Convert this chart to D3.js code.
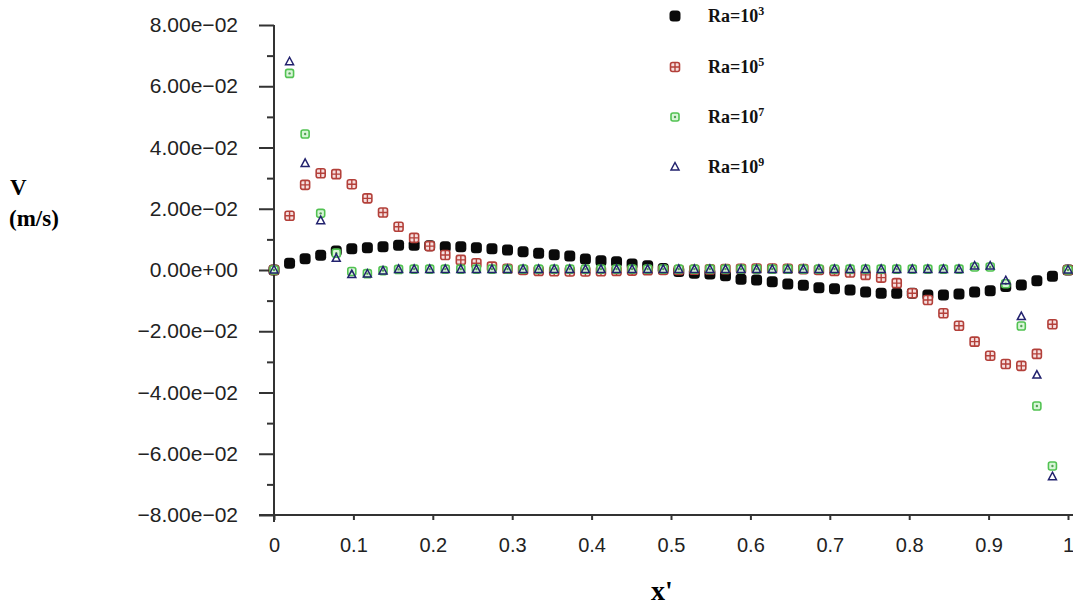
<!DOCTYPE html>
<html>
<head>
<meta charset="utf-8">
<title>V (m/s) vs x'</title>
<script src="https://cdnjs.cloudflare.com/ajax/libs/d3/7.8.5/d3.min.js"></script>
<style>
  body { margin: 0; background: #fff; }
  svg { display: block; }
</style>
</head>
<body>
<script>
// x' positions (52 nodes across the cavity)
var xPos = [0, 0.0196, 0.0392, 0.0588, 0.0784, 0.0980, 0.1176, 0.1373, 0.1569, 0.1765,
  0.1961, 0.2157, 0.2353, 0.2549, 0.2745, 0.2941, 0.3137, 0.3333, 0.3529, 0.3725,
  0.3922, 0.4118, 0.4314, 0.4510, 0.4706, 0.4902, 0.5098, 0.5294, 0.5490, 0.5686,
  0.5882, 0.6078, 0.6275, 0.6471, 0.6667, 0.6863, 0.7059, 0.7255, 0.7451, 0.7647,
  0.7843, 0.8039, 0.8235, 0.8431, 0.8627, 0.8824, 0.9020, 0.9216, 0.9412, 0.9608,
  0.9804, 1.0];

// velocity V (m/s)
var ra3 = [0, 0.0022, 0.0037, 0.0048, 0.0062, 0.0069, 0.0073, 0.0076, 0.0081, 0.0081,
  0.0079, 0.0076, 0.0076, 0.0073, 0.0069, 0.0065, 0.0060, 0.0055, 0.0050, 0.0046,
  0.0036, 0.0030, 0.0027, 0.0020, 0.0014, 0.0005, -0.0005, -0.0011, -0.0013, -0.0019,
  -0.0030, -0.0033, -0.0038, -0.0046, -0.0050, -0.0058, -0.0061, -0.0065, -0.0072, -0.0076,
  -0.0076, -0.0076, -0.0082, -0.0082, -0.0078, -0.0072, -0.0068, -0.0054, -0.0049, -0.0035,
  -0.0020, 0];
var ra5 = [0, 0.0177, 0.0278, 0.0316, 0.0313, 0.0280, 0.0234, 0.0188, 0.0141, 0.0105,
  0.0078, 0.0049, 0.0033, 0.0022, 0.0011, 0.0004, 0.0000, -0.0003, -0.0004, -0.0005,
  -0.0005, -0.0004, -0.0003, -0.0002, -0.0001, 0, 0, 0.0001, 0.0002, 0.0003,
  0.0004, 0.0005, 0.0005, 0.0004, 0.0003, 0.0000, -0.0003, -0.0008, -0.0016, -0.0025,
  -0.0043, -0.0076, -0.0098, -0.0141, -0.0182, -0.0234, -0.0280, -0.0307, -0.0313, -0.0274,
  -0.0177, 0];
var ra7 = [0, 0.0642, 0.0444, 0.0185, 0.0055, -0.0005, -0.0012, -0.0002, 0.0002, 0.0003,
  0.0003, 0.0003, 0.0003, 0.0003, 0.0003, 0.0003, 0.0003, 0.0003, 0.0003, 0.0003,
  0.0003, 0.0003, 0.0003, 0.0003, 0.0003, 0.0003, 0.0003, 0.0003, 0.0003, 0.0003,
  0.0003, 0.0003, 0.0003, 0.0003, 0.0003, 0.0003, 0.0003, 0.0003, 0.0003, 0.0003,
  0.0003, 0.0003, 0.0003, 0.0003, 0.0003, 0.0010, 0.0010, -0.0045, -0.0183, -0.0444,
  -0.0640, 0];
var ra9 = [0, 0.0680, 0.0348, 0.0161, 0.0038, -0.0015, -0.0013, -0.0003, 0.0002, 0.0002,
  0.0002, 0.0002, 0.0002, 0.0002, 0.0002, 0.0002, 0.0002, 0.0002, 0.0002, 0.0002,
  0.0002, 0.0002, 0.0002, 0.0002, 0.0002, 0.0002, 0.0002, 0.0002, 0.0002, 0.0002,
  0.0002, 0.0002, 0.0002, 0.0002, 0.0002, 0.0002, 0.0002, 0.0002, 0.0002, 0.0002,
  0.0002, 0.0002, 0.0002, 0.0002, 0.0002, 0.0013, 0.0013, -0.0035, -0.0152, -0.0343,
  -0.0675, 0];

var legendExp = ["3", "5", "7", "9"];

var xTicks = [0, 0.1, 0.2, 0.3, 0.4, 0.5, 0.6, 0.7, 0.8, 0.9, 1];
var xTickLabels = ["0", "0.1", "0.2", "0.3", "0.4", "0.5", "0.6", "0.7", "0.8", "0.9", "1"];
var yTicks = [-0.08, -0.06, -0.04, -0.02, 0, 0.02, 0.04, 0.06, 0.08];
var yTickLabels = ["\u22128.00e\u221202", "\u22126.00e\u221202", "\u22124.00e\u221202", "\u22122.00e\u221202",
  "0.00e+00", "2.00e\u221202", "4.00e\u221202", "6.00e\u221202", "8.00e\u221202"];
var yMinor = [-0.07, -0.05, -0.03, -0.01, 0.01, 0.03, 0.05, 0.07];

var width = 1073, height = 607;
var axisColor = "#333";

var x = d3.scaleLinear().domain([0, 1]).range([274, 1068]);
var y = d3.scaleLinear().domain([-0.08, 0.08]).range([515, 25]);

var svg = d3.select("body").append("svg")
  .attr("width", width)
  .attr("height", height);

// axes
var gy = svg.append("g").attr("transform", "translate(274,0)")
  .call(d3.axisLeft(y).tickValues(yTicks)
    .tickFormat(function(d, i) { return yTickLabels[i]; })
    .tickSize(15).tickPadding(21).tickSizeOuter(0));
var gyMinor = svg.append("g").attr("transform", "translate(274,0)")
  .call(d3.axisLeft(y).tickValues(yMinor).tickFormat("").tickSize(7).tickSizeOuter(0));
var gx = svg.append("g").attr("transform", "translate(0,515)")
  .call(d3.axisBottom(x).tickValues(xTicks)
    .tickFormat(function(d, i) { return xTickLabels[i]; })
    .tickSize(5).tickPadding(18).tickSizeOuter(0));

[gy, gyMinor, gx].forEach(function(g) {
  g.select(".domain").remove();
  g.selectAll(".tick line").attr("stroke", axisColor).attr("stroke-width", 2);
  g.selectAll(".tick text")
    .attr("fill", "#222")
    .style("font-family", "'Liberation Sans', Arial, sans-serif");
});
gy.selectAll(".tick text").style("font-size", "21px");
gx.selectAll(".tick text").style("font-size", "20px");

svg.append("line")
  .attr("x1", 274).attr("x2", 274).attr("y1", y(0.08)).attr("y2", 522)
  .attr("stroke", axisColor).attr("stroke-width", 2);
svg.append("line")
  .attr("x1", 259).attr("x2", 1073).attr("y1", y(-0.08)).attr("y2", y(-0.08))
  .attr("stroke", axisColor).attr("stroke-width", 2);

// axis titles
var serif = "'Liberation Serif', 'Times New Roman', serif";
svg.append("text").attr("x", 10).attr("y", 195).text("V")
  .style("font-family", serif).style("font-weight", "bold").style("font-size", "23px");
svg.append("text").attr("x", 9).attr("y", 226).text("(m/s)")
  .style("font-family", serif).style("font-weight", "bold").style("font-size", "23px");
svg.append("text").attr("x", 662).attr("y", 600).attr("text-anchor", "middle").text("x'")
  .style("font-family", serif).style("font-weight", "bold").style("font-size", "28px");

// marker painters
function drawBlack(g) {
  g.append("rect").attr("x", -5.5).attr("y", -5.5).attr("width", 11).attr("height", 11)
    .attr("rx", 3.5).attr("fill", "#0a0a0a");
}
function drawRed(g) {
  g.append("rect").attr("x", -4.5).attr("y", -4.5).attr("width", 9).attr("height", 9)
    .attr("rx", 2).attr("fill", "#f6dede").attr("stroke", "#b3403a").attr("stroke-width", 1.6);
  g.append("path").attr("d", "M-4.5,0H4.5M0,-4.5V4.5")
    .attr("stroke", "#b3403a").attr("stroke-width", 1.4);
}
function drawGreen(g) {
  g.append("rect").attr("x", -4).attr("y", -4).attr("width", 8).attr("height", 8)
    .attr("rx", 2).attr("fill", "#d8f5d8").attr("stroke", "#52c252").attr("stroke-width", 1.6);
  g.append("circle").attr("r", 1.2).attr("fill", "#52a052");
}
function drawBlue(g) {
  g.append("path").attr("d", "M0,-4.5L4,3L-4,3Z")
    .attr("fill", "none").attr("stroke", "#22226e").attr("stroke-width", 1.5);
}

var series = [
  { vals: ra3, draw: drawBlack },
  { vals: ra5, draw: drawRed },
  { vals: ra7, draw: drawGreen },
  { vals: ra9, draw: drawBlue }
];

series.forEach(function(s) {
  svg.append("g").selectAll("g")
    .data(xPos)
    .enter()
    .append("g")
    .attr("transform", function(d, i) { return "translate(" + x(d) + "," + y(s.vals[i]) + ")"; })
    .each(function() { s.draw(d3.select(this)); });
});

// legend
var legendY = [16, 67, 117, 167];
series.forEach(function(s, i) {
  var g = svg.append("g").attr("transform", "translate(675," + legendY[i] + ")");
  s.draw(g);
  var t = svg.append("text").attr("x", 708).attr("y", legendY[i] + 6)
    .style("font-family", serif).style("font-weight", "bold").style("font-size", "18px")
    .attr("fill", "#111");
  t.append("tspan").text("Ra=10");
  t.append("tspan").attr("dy", -7).style("font-size", "12px").text(legendExp[i]);
});
</script>
</body>
</html>
